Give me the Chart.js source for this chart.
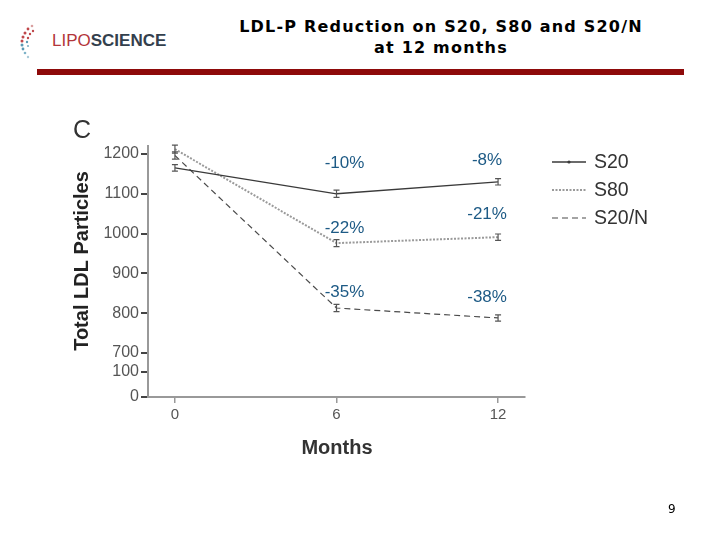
<!DOCTYPE html>
<html>
<head>
<meta charset="utf-8">
<script src="https://cdn.jsdelivr.net/npm/chart.js@4.4.0/dist/chart.umd.min.js"></script>
<style>
  html, body { margin: 0; padding: 0; background: #fff; }
  #wrap { position: relative; width: 720px; height: 540px; overflow: hidden; }
  #title { position: absolute; left: 200px; width: 482px; top: 16px; text-align: center;
           font-family: "DejaVu Sans", Verdana, sans-serif; font-weight: bold; font-size: 16px;
           letter-spacing: 1.2px; line-height: 21px; color: #000; }
  #bar { position: absolute; left: 37px; top: 69px; width: 647px; height: 6px; background: #8e0a0a; }
  #logo { position: absolute; left: 52px; top: 31px; font-family: "Liberation Sans", Arial, sans-serif;
          font-size: 17px; color: #2b3a4a; }
  #logo .lipo { color: #b3363a; }
  #logo .sci { font-weight: bold; color: #33404d; }
  #icon { position: absolute; left: 14px; top: 20px; }
  #page { position: absolute; left: 668px; top: 502px; font-family: "DejaVu Sans", sans-serif; font-size: 12px; }
  #chartBox { position: absolute; left: 0; top: 0; width: 720px; height: 540px; }
</style>
</head>
<body>
<div id="wrap">
  <svg id="icon" width="32" height="44" viewBox="0 0 32 44">
    <g fill="#c0474a">
      <circle cx="18" cy="6" r="1.3" fill="#d9a0a0"/>
      <circle cx="14" cy="9" r="1.4"/>
      <circle cx="11" cy="13" r="1.5"/>
      <circle cx="9" cy="17" r="1.5"/>
      <circle cx="8" cy="21" r="1.5"/>
      <circle cx="8" cy="25" r="1.5" fill="#5a9ab5"/>
      <circle cx="9" cy="29" r="1.4" fill="#5a9ab5"/>
      <circle cx="11" cy="33" r="1.3" fill="#7fb3c8"/>
      <circle cx="14" cy="37" r="1.2" fill="#a9cad8"/>
      <circle cx="19" cy="11" r="1.2"/>
      <circle cx="16" cy="14" r="1.2"/>
      <circle cx="14" cy="18" r="1.2"/>
      <circle cx="13" cy="22" r="1.2" fill="#5a9ab5"/>
      <circle cx="14" cy="26" r="1.1" fill="#7fb3c8"/>
    </g>
  </svg>
  <div id="logo"><span class="lipo">LIPO</span><span class="sci">SCIENCE</span></div>
  <div id="title">LDL-P Reduction on S20, S80 and S20/N<br>at 12 months</div>
  <div id="bar"></div>
  <div id="chartBox"><canvas id="ldlChart" width="720" height="540"></canvas></div>
  <div id="page">9</div>
</div>
<script>
// values
const months = [0, 6, 12];
const s20 = [1165, 1100, 1130];
const s80 = [1212, 976, 991];
const s20n = [1196, 813, 788];
const errS20 = [8, 9, 8];
const errS80 = [10, 9, 8];
const errS20n = [9, 9, 8];

const upperTicks = [700, 800, 900, 1000, 1100, 1200];
const lowerTicks = [0, 100];
const monthTicks = [0, 6, 12];

// percent change labels: month, y value, text
const pctMonth = [6, 12, 6, 12, 6, 12];
const pctValue = [1177, 1185, 1014, 1049, 853, 841];
const pctText = ["-10%", "-8%", "-22%", "-21%", "-35%", "-38%"];

const legendNames = ["S20", "S80", "S20/N"];

const font = "'Liberation Sans', Arial, sans-serif";
const styles = [
    { color: "#3a3a3a", dash: [], width: 1.3 },
    { color: "#9a9a9a", dash: [2, 1.5], width: 2 },
    { color: "#4a4a4a", dash: [6, 4], width: 1.2 }
];

const errPlugin = {
    id: "errorBars",
    afterDatasetsDraw(chart) {
        const ctx = chart.ctx;
        const xs = chart.scales.x;
        const ys = chart.scales.yTop;
        const errs = [errS20, errS80, errS20n];
        ctx.save();
        ctx.strokeStyle = "#555";
        ctx.lineWidth = 1.2;
        chart.data.datasets.forEach((ds, i) => {
            ds.data.forEach((p, j) => {
                const x = xs.getPixelForValue(p.x);
                const top = ys.getPixelForValue(p.y + errs[i][j]);
                const bot = ys.getPixelForValue(p.y - errs[i][j]);
                ctx.beginPath();
                ctx.moveTo(x, top); ctx.lineTo(x, bot);
                ctx.moveTo(x - 3, top); ctx.lineTo(x + 3, top);
                ctx.moveTo(x - 3, bot); ctx.lineTo(x + 3, bot);
                ctx.stroke();
            });
        });

        // percent labels
        ctx.fillStyle = "#1d5a85";
        ctx.font = "17px " + font;
        ctx.textAlign = "center";
        ctx.textBaseline = "middle";
        pctText.forEach((t, k) => {
            const off = pctMonth[k] === 6 ? 8 : -11;
            ctx.fillText(t, xs.getPixelForValue(pctMonth[k]) + off, ys.getPixelForValue(pctValue[k]));
        });

        // legend
        ctx.font = "19.5px " + font;
        ctx.textAlign = "left";
        legendNames.forEach((n, k) => {
            const y = 162 + k * 28;
            const st = styles[k];
            ctx.strokeStyle = st.color;
            ctx.lineWidth = st.width;
            ctx.setLineDash(st.dash);
            ctx.beginPath();
            ctx.moveTo(552, y); ctx.lineTo(586, y);
            ctx.stroke();
            ctx.setLineDash([]);
            if (k === 0) {
                ctx.fillStyle = "#3a3a3a";
                ctx.beginPath(); ctx.arc(569, y, 1.6, 0, Math.PI * 2); ctx.fill();
            }
            ctx.fillStyle = "#333";
            ctx.fillText(n, 594, y + 1);
        });

        // titles
        ctx.fillStyle = "#222";
        ctx.font = "bold 20px " + font;
        ctx.textAlign = "center";
        ctx.save();
        ctx.translate(82, 261);
        ctx.rotate(-Math.PI / 2);
        ctx.fillText("Total LDL Particles", 0, 0);
        ctx.restore();
        ctx.font = "bold 20px " + font;
        ctx.fillStyle = "#333";
        ctx.fillText("Months", 337, 448);
        ctx.font = "25px " + font;
        ctx.fillText("C", 82, 131);
        ctx.restore();
    }
};

function toPoints(vals) {
    return vals.map((v, i) => ({ x: months[i], y: v }));
}

const yTicks = { color: "#555", font: { family: font, size: 16 }, padding: 2, callback: v => String(v) };
const yGrid = { drawOnChartArea: false, drawTicks: true, tickLength: 7, color: "#444", lineWidth: 2 };
const yBorder = { display: true, color: "#999", width: 2 };

new Chart("ldlChart", {
    type: "line",
    data: {
        datasets: [s20, s80, s20n].map((vals, i) => ({
            label: legendNames[i],
            data: toPoints(vals),
            borderColor: styles[i].color,
            borderWidth: styles[i].width,
            borderDash: styles[i].dash,
            pointRadius: 0,
            fill: false,
            tension: 0,
            xAxisID: "x",
            yAxisID: "yTop"
        }))
    },
    options: {
        responsive: false,
        animation: false,
        layout: { padding: { top: 146, right: 195, left: 0, bottom: 0 } },
        plugins: { legend: { display: false }, tooltip: { enabled: false } },
        scales: {
            x: {
                type: "linear",
                min: -1,
                max: 13,
                afterBuildTicks: s => { s.ticks = monthTicks.map(v => ({ value: v })); },
                afterFit: s => { s.height = 540 - 397; },
                grid: { drawOnChartArea: false, drawTicks: true, tickLength: 6, color: "#999", lineWidth: 1.5 },
                border: { display: true, color: "#999", width: 2 },
                ticks: { color: "#555", font: { family: font, size: 15 }, padding: 3 }
            },
            yBot: {
                type: "linear",
                position: "left",
                stack: "left",
                stackWeight: 44,
                min: 0,
                max: 176,
                afterBuildTicks: s => { s.ticks = lowerTicks.map(v => ({ value: v })); },
                afterFit: s => { s.width = 148; },
                grid: yGrid,
                border: yBorder,
                ticks: yTicks
            },
            yTop: {
                type: "linear",
                position: "left",
                stack: "left",
                stackWeight: 207,
                min: 700,
                max: 1220,
                afterBuildTicks: s => { s.ticks = upperTicks.map(v => ({ value: v })); },
                afterFit: s => { s.width = 148; },
                grid: yGrid,
                border: yBorder,
                ticks: yTicks
            }
        }
    },
    plugins: [errPlugin]
});
</script>
</body>
</html>
